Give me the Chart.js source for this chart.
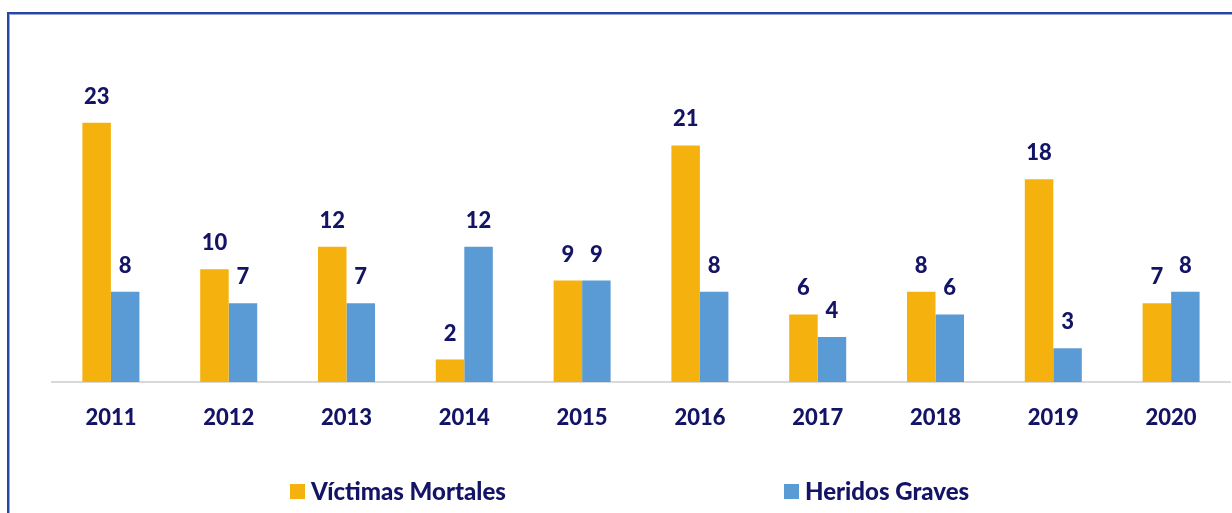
<!DOCTYPE html>
<html>
<head>
<meta charset="utf-8">
<script src="https://cdn.jsdelivr.net/npm/chart.js@4.4.1/dist/chart.umd.min.js"></script>
<style>
  html, body { margin: 0; padding: 0; background: #ffffff; overflow: hidden; }
  #wrap { position: relative; width: 1232px; height: 513px; }
  #frame { position: absolute; left: 7px; top: 12px; width: 1400px; height: 700px;
           border-left: 2px solid #2846a0; border-top: 2px solid #2846a0;
           box-shadow: inset 1px 1px 0 #98a8d8; }
  canvas { position: absolute; left: 0; top: 0; }
  #legend { position: absolute; top: 477px; left: 0; width: 1232px; height: 28px;
            font-family: Lato, sans-serif; font-weight: 900; font-size: 24px; color: #141466; }
  .item { position: absolute; top: 0; height: 28px; line-height: 28px; white-space: nowrap; }
  .box { position: absolute; top: 7px; width: 15px; height: 15px; }
  .txt { position: absolute; top: 0; }
</style>
</head>
<body>
<div id="wrap">
  <div id="frame"></div>
  <canvas id="c" width="1232" height="513"></canvas>
  <div id="legend"></div>
</div>
<script>
const years = ['2011','2012','2013','2014','2015','2016','2017','2018','2019','2020'];
const victimasMortales = [23, 10, 12, 2, 9, 21, 6, 8, 18, 7];
const heridosGraves = [8, 7, 7, 12, 9, 8, 4, 6, 3, 8];
const seriesNames = ['Víctimas Mortales', 'Heridos Graves'];
const seriesColors = ['#F5B20F', '#5B9BD5'];
const textColor = '#141466';
const fontFamily = 'Lato, sans-serif';

const valueLabels = {
  id: 'valueLabels',
  afterDatasetsDraw(chart) {
    const ctx = chart.ctx;
    ctx.save();
    ctx.font = '900 22px ' + fontFamily;
    ctx.fillStyle = textColor;
    ctx.textAlign = 'center';
    ctx.textBaseline = 'middle';
    chart.data.datasets.forEach((ds, i) => {
      const meta = chart.getDatasetMeta(i);
      meta.data.forEach((el, j) => {
        ctx.fillText(String(ds.data[j]), el.x, el.y - 26);
      });
    });
    ctx.restore();
  }
};

const chart = new Chart(document.getElementById('c'), {
  type: 'bar',
  data: {
    labels: years,
    datasets: [
      { label: seriesNames[0], data: victimasMortales, backgroundColor: seriesColors[0] },
      { label: seriesNames[1], data: heridosGraves, backgroundColor: seriesColors[1] }
    ]
  },
  options: {
    responsive: false,
    animation: false,
    events: [],
    layout: { padding: { left: 52, right: 2, top: 44, bottom: 0 } },
    datasets: { bar: { categoryPercentage: 0.484, barPercentage: 1.0 } },
    plugins: { legend: { display: false }, tooltip: { enabled: false } },
    scales: {
      x: {
        grid: { display: false, drawTicks: false },
        border: { display: true, color: '#d9d9d9', width: 2 },
        ticks: { color: textColor, font: { family: fontFamily, size: 22, weight: '900' }, padding: 23, maxRotation: 0 },
        afterFit(s) { s.height = 131; }
      },
      y: {
        display: false,
        min: 0,
        max: 30
      }
    }
  },
  plugins: [valueLabels]
});

// HTML legend built from the series arrays
const legend = document.getElementById('legend');
const legendX = [290, 784];
seriesNames.forEach((name, i) => {
  const item = document.createElement('div');
  item.className = 'item';
  item.style.left = legendX[i] + 'px';
  const box = document.createElement('div');
  box.className = 'box';
  box.style.background = seriesColors[i];
  box.style.left = '0px';
  const t = document.createElement('div');
  t.className = 'txt';
  t.style.left = '21px';
  t.textContent = name;
  item.appendChild(box);
  item.appendChild(t);
  legend.appendChild(item);
});
</script>
</body>
</html>
